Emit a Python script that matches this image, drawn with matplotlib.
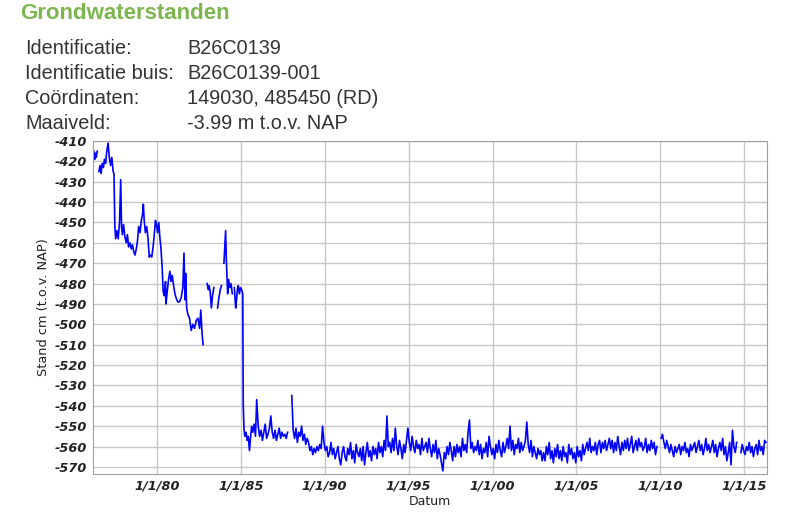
import numpy as np
import matplotlib
matplotlib.use("Agg")
import matplotlib.pyplot as plt

# %% data: grondwaterstand B26C0139-001 (cm t.o.v. NAP)
nan = np.nan

# eerste periode, onregelmatige metingen (jaar, stand)
vroeg_jaar = [1976.25, 1976.30, 1976.35, 1976.40, 1976.45, 1976.50,
              1976.55, 1976.62, 1976.68, 1976.75, 1976.82, 1976.88, 1976.95,
              1977.02, 1977.10, 1977.17, 1977.25, 1977.32, 1977.40, 1977.45,
              1977.50, 1977.55, 1977.62, 1977.70, 1977.78, 1977.85, 1977.90,
              1977.95, 1978.02, 1978.10, 1978.18, 1978.25, 1978.32, 1978.40,
              1978.48, 1978.55, 1978.62, 1978.70, 1978.78, 1978.85, 1978.92,
              1979.00, 1979.08, 1979.15, 1979.20, 1979.25, 1979.32, 1979.40,
              1979.48, 1979.55, 1979.62, 1979.70, 1979.78, 1979.85, 1979.92,
              1979.98, 1980.05, 1980.12, 1980.18, 1980.25, 1980.32, 1980.38,
              1980.45, 1980.52, 1980.55, 1980.62, 1980.70, 1980.78, 1980.85,
              1980.92, 1981.00, 1981.08, 1981.15, 1981.25, 1981.35, 1981.45,
              1981.55, 1981.62, 1981.68, 1981.72, 1981.78, 1981.85, 1981.95,
              1982.05, 1982.15, 1982.25, 1982.35, 1982.45, 1982.55, 1982.62,
              1982.70, 1982.76, 1982.85,
              1983.00, 1983.06, 1983.12, 1983.18, 1983.25, 1983.32, 1983.40,
              1983.50, 1983.62, 1983.70, 1983.78, 1983.85, 1983.90,
              1984.00, 1984.05, 1984.10, 1984.15, 1984.22, 1984.28, 1984.35,
              1984.42, 1984.50, 1984.55, 1984.62, 1984.66, 1984.70, 1984.75,
              1984.80, 1984.85, 1984.92, 1984.98, 1985.05, 1985.12, 1985.15,
              1985.20, 1985.25, 1985.32, 1985.38, 1985.45, 1985.52, 1985.58,
              1985.65, 1985.72, 1985.80, 1985.88, 1985.95]
vroeg_stand = [-415, -419, -416, -418, -415, nan,
               -425, -422, -426, -421, -423, -419, -421,
               -415, -411, -418, -422, -418, -425, -426,
               -452, -458, -454, -458, -450, -429, -452,
               -456, -451, -457, -460, -456, -462, -460,
               -463, -461, -464, -466, -463, -459, -452,
               -455, -449, -446, -441, -449, -455, -452,
               -458, -467, -466, -467, -462, -456, -449,
               -451, -455, -450, -457, -463, -472, -484,
               -486, -479, -490, -484, -478, -474, -479,
               -476, -481, -485, -487, -489, -489, -487,
               -482, -465, -488, -475, -492, -495, -497,
               -503, -500, -502, -498, -497, -502, -493,
               -505, -510, nan,
               -480, -483, -481, -484, -492, -486, -482,
               nan, -492, -487, -483, -481, nan,
               -470, -462, -454, -470, -485, -478, -482,
               -480, -485, nan, -482, -487, -492, -488,
               -483, -481, -485, -482, -483, -485, -540,
               -552, -555, -553, -557, -555, -562, -556,
               -550, -553, -549, -555, -537]

# maandelijkse metingen vanaf 1986
stand_1986 = [-550, -555, -552, -557, -553, -549, -556, -554, -551, -545, -553, -556]
stand_1987 = [-552, -557, -554, -551, -556, -553, -555, -554, -556, -553, nan, nan]
stand_1988 = [-535, -552, -556, -551, -558, -553, -555, -550, -557, -554, -559, -556]
stand_1989 = [-558, -562, -560, -564, -561, -563, -560, -562, -559, -561, -550, -558]
stand_1990 = [-562, -560, -565, -563, -558, -564, -561, -566, -563, -560, -566, -569]
stand_1991 = [-563, -560, -565, -567, -561, -564, -558, -566, -562, -568, -559, -563]
stand_1992 = [-565, -561, -567, -560, -569, -563, -558, -565, -562, -567, -560, -564]
stand_1993 = [-561, -566, -558, -563, -560, -565, -557, -562, -545, -560, -558, -563]
stand_1994 = [-556, -562, -551, -560, -564, -557, -561, -566, -559, -563, -557, -551]
stand_1995 = [-558, -562, -555, -560, -563, -557, -561, -559, -564, -556, -562, -560]
stand_1996 = [-558, -563, -556, -561, -565, -559, -563, -557, -566, -561, -564, -568]
stand_1997 = [-572, -563, -566, -560, -564, -558, -562, -567, -560, -565, -559, -563]
stand_1998 = [-560, -565, -556, -562, -559, -563, -553, -547, -561, -558, -563, -560]
stand_1999 = [-562, -557, -564, -559, -566, -561, -563, -558, -565, -555, -560, -564]
stand_2000 = [-561, -566, -559, -563, -557, -562, -565, -558, -563, -560, -556, -561]
stand_2001 = [-550, -562, -557, -564, -559, -561, -556, -563, -558, -562, -560, -557]
stand_2002 = [-548, -559, -563, -557, -565, -560, -563, -566, -561, -564, -562, -567]
stand_2003 = [-563, -567, -560, -564, -558, -566, -562, -568, -561, -565, -559, -566]
stand_2004 = [-562, -567, -560, -565, -563, -568, -559, -564, -561, -566, -563, -568]
stand_2005 = [-560, -565, -562, -567, -559, -564, -561, -558, -562, -556, -563, -560]
stand_2006 = [-562, -558, -564, -559, -557, -563, -558, -561, -557, -562, -559, -556]
stand_2007 = [-561, -557, -563, -558, -562, -555, -560, -564, -558, -562, -557, -561]
stand_2008 = [-556, -562, -559, -555, -563, -560, -557, -562, -556, -560, -558, -562]
stand_2009 = [-560, -556, -563, -559, -562, -557, -561, -558, -564, -560, nan, nan]
stand_2010 = [-556, -554, -558, -561, -557, -560, -563, -559, -562, -565, -560, -563]
stand_2011 = [-561, -559, -564, -560, -562, -558, -563, -561, -565, -559, -562, -560]
stand_2012 = [-558, -563, -560, -557, -562, -559, -564, -561, -556, -562, -559, -563]
stand_2013 = [-560, -557, -563, -559, -565, -561, -558, -562, -556, -564, -560, -567]
stand_2014 = [-563, -558, -569, -552, -560, -563, -558, nan, nan, -563, -559, -562]
stand_2015 = [-564, -560, -562, -558, -563, -560, -565, -561, -559, -564, -557, -562]
stand_2016 = [-560, -564, -557, -558]

maand_reeksen = [stand_1986, stand_1987, stand_1988, stand_1989, stand_1990,
                 stand_1991, stand_1992, stand_1993, stand_1994, stand_1995,
                 stand_1996, stand_1997, stand_1998, stand_1999, stand_2000,
                 stand_2001, stand_2002, stand_2003, stand_2004, stand_2005,
                 stand_2006, stand_2007, stand_2008, stand_2009, stand_2010,
                 stand_2011, stand_2012, stand_2013, stand_2014, stand_2015,
                 stand_2016]

x_ticks = [1980, 1985, 1990, 1995, 2000, 2005, 2010, 2015]
x_labels = ["1/1/80", "1/1/85", "1/1/90", "1/1/95", "1/1/00", "1/1/05", "1/1/10", "1/1/15"]
y_ticks = list(range(-410, -571, -10))

info_labels = ["Identificatie:", "Identificatie buis:", "Coördinaten:", "Maaiveld:"]
info_values = ["B26C0139", "B26C0139-001", "149030, 485450 (RD)", "-3.99 m t.o.v. NAP"]

# %% samenvoegen
jaar = list(vroeg_jaar)
stand = list(vroeg_stand)
for k, reeks in enumerate(maand_reeksen):
    for m, v in enumerate(reeks):
        jaar.append(1986 + k + (m + 0.5) / 12)
        stand.append(v)
jaar = np.array(jaar)
stand = np.array(stand, dtype=float)

# %% plot
fig = plt.figure(figsize=(7.96, 5.16), dpi=100)
fig.patch.set_facecolor("white")

fig.text(20 / 796, 1 - 19 / 516, "Grondwaterstanden", fontsize=16, fontweight="bold",
         color="#7db54e", family="Liberation Sans", va="baseline", ha="left")
for i, (lab, val) in enumerate(zip(info_labels, info_values)):
    yy = 1 - (54 + i * 25) / 516
    fig.text(25 / 796, yy, lab, fontsize=14.3, color="#333333",
             family="Liberation Sans", va="baseline", ha="left")
    fig.text(187 / 796, yy, val, fontsize=14.3, color="#333333",
             family="Liberation Sans", va="baseline", ha="left")

ax = fig.add_axes([93 / 796, 1 - 474 / 516, (767 - 93) / 796, (474 - 141) / 516])
ax.plot(jaar, stand, color="#0000ff", linewidth=1.2)

ax.set_xlim(1976.2, 2016.35)
ax.set_ylim(-573.5, -410)
ax.set_xticks(x_ticks)
ax.set_xticklabels(x_labels)
ax.set_yticks(y_ticks)
ax.set_yticklabels([str(t) for t in y_ticks])
ax.grid(True, color="#c8c8c8", linewidth=1.0)
ax.set_axisbelow(True)
for s in ax.spines.values():
    s.set_color("#a0a0a0")
ax.tick_params(length=0, pad=4)
for lbl in ax.get_xticklabels() + ax.get_yticklabels():
    lbl.set_fontsize(9.3)
    lbl.set_fontweight("bold")
    lbl.set_fontstyle("italic")
    lbl.set_color("#222222")
ax.set_xlabel("Datum", fontsize=9, color="#222222", labelpad=2)
ax.set_ylabel("Stand cm (t.o.v. NAP)", fontsize=9.3, color="#222222", labelpad=4)

fig.savefig("out.png", dpi=100)
